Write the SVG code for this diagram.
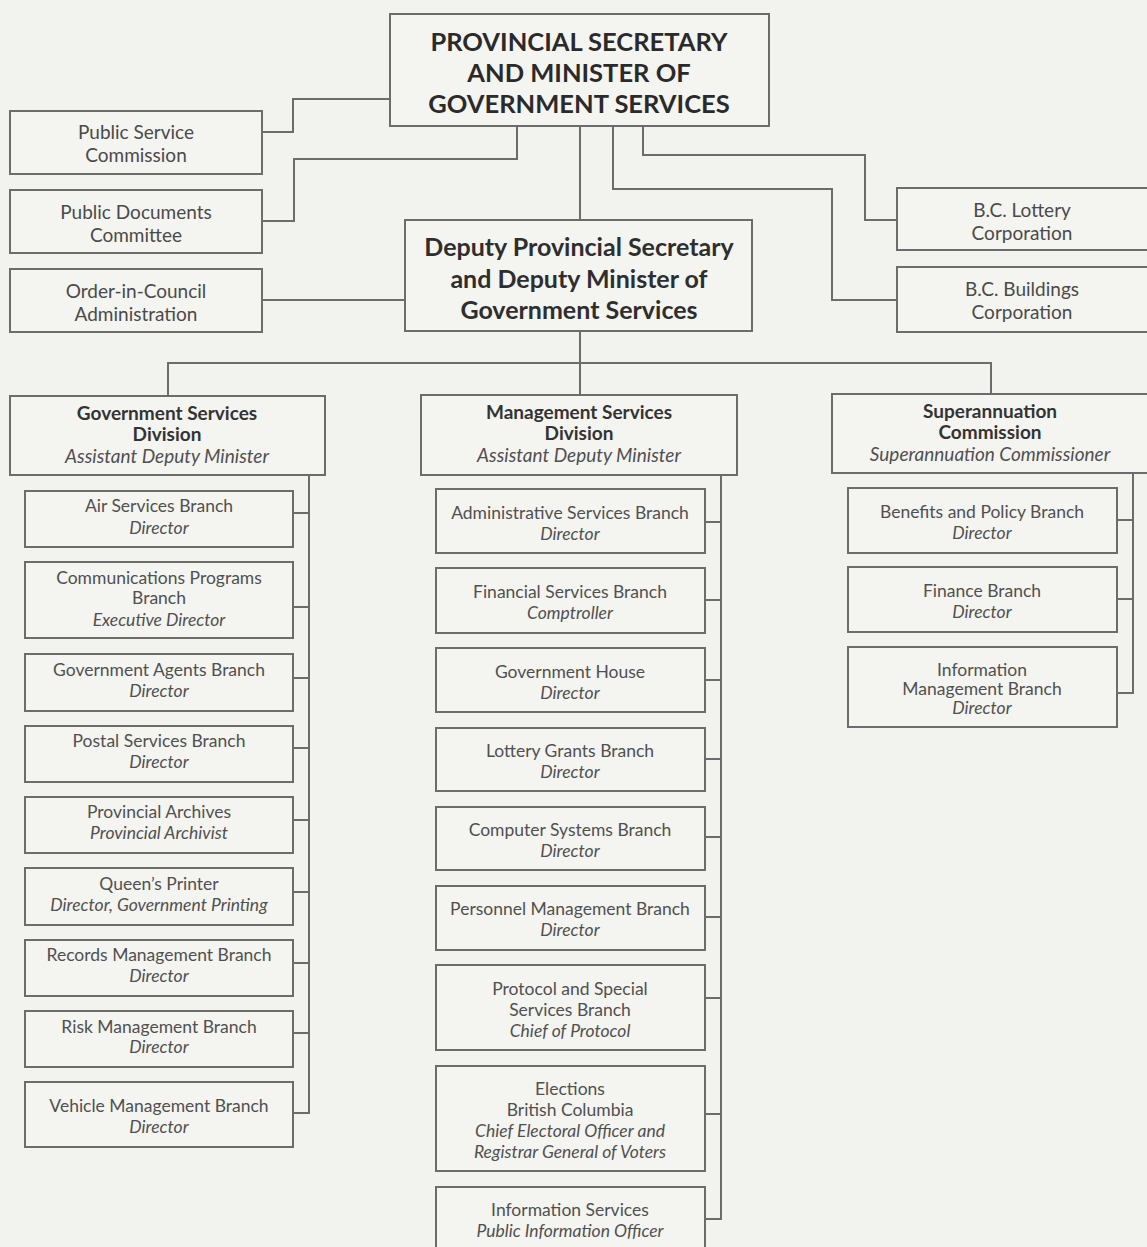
<svg xmlns="http://www.w3.org/2000/svg" width="1147" height="1247" viewBox="0 0 1147 1247">
<style>
.bg{fill:#f2f2ef}
.box{fill:#f4f4f1;stroke:#6c6c6c;stroke-width:2}
.ln{fill:none;stroke:#6c6c6c;stroke-width:2}
text{font-family:Lato,"Open Sans","Liberation Sans",sans-serif;text-anchor:middle;font-size:17.5px;fill:#505050}
.i{font-style:italic}
.b{font-weight:bold;fill:#333;font-size:19px}
.di{font-size:19px}
.top{font-size:25.5px;font-weight:bold;fill:#2a2a2a}
.dep{font-size:25px;font-weight:bold;fill:#2e2e2e}
.s{font-size:19px;fill:#4a4a4a}
</style>
<rect class="bg" x="0" y="0" width="1147" height="1247"/>
<g id="connectors">
<path class="ln" d="M262,132 H293 V99 H390"/>
<path class="ln" d="M262,221 H294 V159 H517 V126"/>
<path class="ln" d="M262,300 H405"/>
<path class="ln" d="M580,126 V220"/>
<path class="ln" d="M643,126 V155 H865 V220 H897"/>
<path class="ln" d="M613,126 V189 H832 V300 H897"/>
<path class="ln" d="M580,331 V363"/>
<path class="ln" d="M168,396 V363 H991 V394"/>
<path class="ln" d="M580,363 V395"/>
<path class="ln" d="M309,475 V1113 H293"/>
<path class="ln" d="M293,513 H309 M293,607 H309 M293,678 H309 M293,748 H309 M293,820 H309 M293,892 H309 M293,963 H309 M293,1033 H309"/>
<path class="ln" d="M721,475 V1219 H705"/>
<path class="ln" d="M705,522 H721 M705,600 H721 M705,680 H721 M705,759 H721 M705,837 H721 M705,917 H721 M705,998 H721 M705,1114 H721"/>
<path class="ln" d="M1133,473 V693 H1117"/>
<path class="ln" d="M1117,520 H1133 M1117,599 H1133"/>
</g>
<g id="minister"><rect class="box" x="390" y="14" width="379" height="112"/>
<text class="top" x="579" y="51">PROVINCIAL SECRETARY</text>
<text class="top" x="579" y="82">AND MINISTER OF</text>
<text class="top" x="579" y="113">GOVERNMENT SERVICES</text></g>
<g id="psc"><rect class="box" x="10" y="111" width="252" height="63"/>
<text class="s" x="136" y="139">Public Service</text><text class="s" x="136" y="162">Commission</text></g>
<g id="pdc"><rect class="box" x="10" y="190" width="252" height="63"/>
<text class="s" x="136" y="219">Public Documents</text><text class="s" x="136" y="242">Committee</text></g>
<g id="oic"><rect class="box" x="10" y="269" width="252" height="63"/>
<text class="s" x="136" y="298">Order-in-Council</text><text class="s" x="136" y="321">Administration</text></g>
<g id="deputy"><rect class="box" x="405" y="220" width="347" height="111"/>
<text class="dep" x="579" y="256">Deputy Provincial Secretary</text>
<text class="dep" x="579" y="288">and Deputy Minister of</text>
<text class="dep" x="579" y="319">Government Services</text></g>
<g id="bclottery"><rect class="box" x="897" y="188" width="252" height="62"/>
<text class="s" x="1022" y="217">B.C. Lottery</text><text class="s" x="1022" y="240">Corporation</text></g>
<g id="bcbuildings"><rect class="box" x="897" y="267" width="252" height="65"/>
<text class="s" x="1022" y="296">B.C. Buildings</text><text class="s" x="1022" y="319">Corporation</text></g>
<g id="gsd"><rect class="box" x="10" y="396" width="315" height="79"/>
<text class="b" x="167" y="420">Government Services</text><text class="b" x="167" y="441">Division</text><text class="i di" x="167" y="463">Assistant Deputy Minister</text></g>
<g id="msd"><rect class="box" x="421" y="395" width="316" height="80"/>
<text class="b" x="579" y="419">Management Services</text><text class="b" x="579" y="440">Division</text><text class="i di" x="579" y="462">Assistant Deputy Minister</text></g>
<g id="sc"><rect class="box" x="832" y="394" width="317" height="79"/>
<text class="b" x="990" y="418">Superannuation</text><text class="b" x="990" y="439">Commission</text><text class="i di" x="990" y="461">Superannuation Commissioner</text></g>
<g id="air"><rect class="box" x="25" y="491" width="268" height="56"/><text x="159" y="512">Air Services Branch</text><text class="i" x="159" y="534">Director</text></g>
<g id="comm"><rect class="box" x="25" y="562" width="268" height="76"/><text x="159" y="584">Communications Programs</text><text x="159" y="604">Branch</text><text class="i" x="159" y="626">Executive Director</text></g>
<g id="agents"><rect class="box" x="25" y="654" width="268" height="57"/><text x="159" y="676">Government Agents Branch</text><text class="i" x="159" y="697">Director</text></g>
<g id="postal"><rect class="box" x="25" y="726" width="268" height="56"/><text x="159" y="747">Postal Services Branch</text><text class="i" x="159" y="768">Director</text></g>
<g id="archives"><rect class="box" x="25" y="797" width="268" height="56"/><text x="159" y="818">Provincial Archives</text><text class="i" x="159" y="839">Provincial Archivist</text></g>
<g id="printer"><rect class="box" x="25" y="868" width="268" height="57"/><text x="159" y="890">Queen’s Printer</text><text class="i" x="159" y="911">Director, Government Printing</text></g>
<g id="records"><rect class="box" x="25" y="940" width="268" height="56"/><text x="159" y="961">Records Management Branch</text><text class="i" x="159" y="982">Director</text></g>
<g id="risk"><rect class="box" x="25" y="1011" width="268" height="56"/><text x="159" y="1033">Risk Management Branch</text><text class="i" x="159" y="1053">Director</text></g>
<g id="vehicle"><rect class="box" x="25" y="1082" width="268" height="65"/><text x="159" y="1112">Vehicle Management Branch</text><text class="i" x="159" y="1133">Director</text></g>
<g id="admin"><rect class="box" x="436" y="489" width="269" height="64"/><text x="570" y="519">Administrative Services Branch</text><text class="i" x="570" y="540">Director</text></g>
<g id="financial"><rect class="box" x="436" y="568" width="269" height="65"/><text x="570" y="598">Financial Services Branch</text><text class="i" x="570" y="619">Comptroller</text></g>
<g id="govhouse"><rect class="box" x="436" y="648" width="269" height="64"/><text x="570" y="678">Government House</text><text class="i" x="570" y="699">Director</text></g>
<g id="lottery"><rect class="box" x="436" y="728" width="269" height="63"/><text x="570" y="757">Lottery Grants Branch</text><text class="i" x="570" y="778">Director</text></g>
<g id="computer"><rect class="box" x="436" y="807" width="269" height="63"/><text x="570" y="836">Computer Systems Branch</text><text class="i" x="570" y="857">Director</text></g>
<g id="personnel"><rect class="box" x="436" y="886" width="269" height="64"/><text x="570" y="915">Personnel Management Branch</text><text class="i" x="570" y="936">Director</text></g>
<g id="protocol"><rect class="box" x="436" y="965" width="269" height="85"/><text x="570" y="995">Protocol and Special</text><text x="570" y="1016">Services Branch</text><text class="i" x="570" y="1037">Chief of Protocol</text></g>
<g id="elections"><rect class="box" x="436" y="1066" width="269" height="105"/><text x="570" y="1095">Elections</text><text x="570" y="1116">British Columbia</text><text class="i" x="570" y="1137">Chief Electoral Officer and</text><text class="i" x="570" y="1158">Registrar General of Voters</text></g>
<g id="infoserv"><rect class="box" x="436" y="1187" width="269" height="70"/><text x="570" y="1216">Information Services</text><text class="i" x="570" y="1237">Public Information Officer</text></g>
<g id="benefits"><rect class="box" x="848" y="488" width="269" height="65"/><text x="982" y="518">Benefits and Policy Branch</text><text class="i" x="982" y="539">Director</text></g>
<g id="finance"><rect class="box" x="848" y="567" width="269" height="65"/><text x="982" y="597">Finance Branch</text><text class="i" x="982" y="618">Director</text></g>
<g id="infomgmt"><rect class="box" x="848" y="647" width="269" height="80"/><text x="982" y="676">Information</text><text x="982" y="695">Management Branch</text><text class="i" x="982" y="714">Director</text></g>
</svg>
